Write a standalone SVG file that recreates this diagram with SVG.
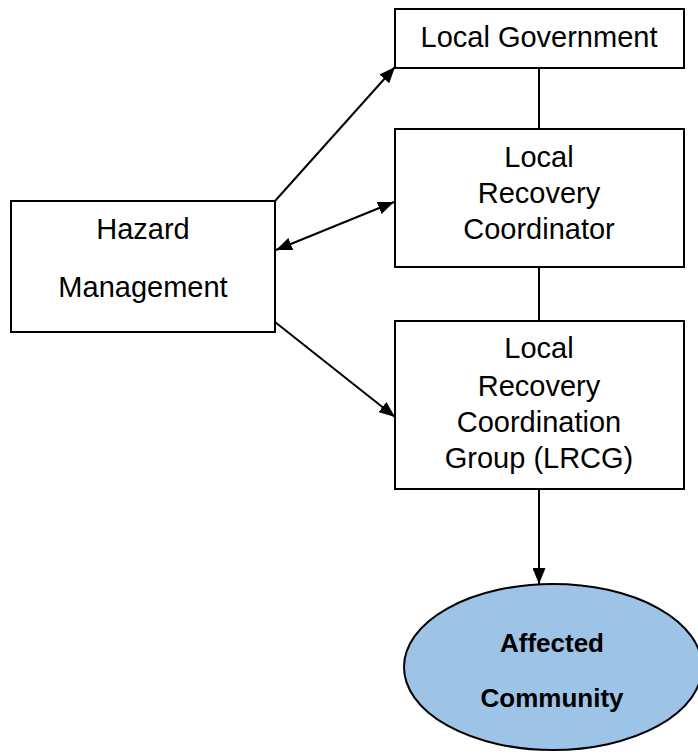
<svg xmlns="http://www.w3.org/2000/svg" width="698" height="756" viewBox="0 0 698 756">
<defs>
<style>
.box{fill:#fff;stroke:#000;stroke-width:2}
.t{font-family:"Liberation Sans",Arial,sans-serif;font-size:29px;fill:#000;text-anchor:middle}
.b{font-family:"Liberation Sans",Arial,sans-serif;font-size:26px;font-weight:bold;fill:#000;text-anchor:middle}
.c{stroke:#000;stroke-width:2;fill:none}
</style>
<marker id="ah" viewBox="0 0 16 13" refX="16" refY="6.5" markerWidth="16" markerHeight="13" markerUnits="userSpaceOnUse" orient="auto-start-reverse">
<path d="M0,0 L16,6.5 L0,13 z" fill="#000"/>
</marker>
</defs>
<rect width="698" height="756" fill="#fff"/>
<g id="connectors">
<line class="c" x1="539" y1="68" x2="539" y2="129"/>
<line class="c" x1="539" y1="267" x2="539" y2="321"/>
<line class="c" x1="275" y1="201" x2="395" y2="67" marker-end="url(#ah)"/>
<line class="c" x1="276" y1="250" x2="394" y2="202" marker-start="url(#ah)" marker-end="url(#ah)"/>
<line class="c" x1="275" y1="322" x2="395" y2="417" marker-end="url(#ah)"/>
<line class="c" x1="539" y1="489" x2="539" y2="584" marker-end="url(#ah)"/>
</g>
<g id="local-government">
<rect class="box" x="395" y="9" width="289" height="59"/>
<text class="t" x="539" y="47">Local Government</text>
</g>
<g id="local-recovery-coordinator">
<rect class="box" x="395" y="129" width="289" height="138"/>
<text class="t" x="539" y="167">Local</text>
<text class="t" x="539" y="203">Recovery</text>
<text class="t" x="539" y="239">Coordinator</text>
</g>
<g id="hazard-management">
<rect class="box" x="11" y="201" width="264" height="131"/>
<text class="t" x="143" y="239">Hazard</text>
<text class="t" x="143" y="297">Management</text>
</g>
<g id="lrcg">
<rect class="box" x="395" y="321" width="289" height="168"/>
<text class="t" x="539" y="358">Local</text>
<text class="t" x="539" y="396">Recovery</text>
<text class="t" x="539" y="432">Coordination</text>
<text class="t" x="539" y="468">Group (LRCG)</text>
</g>
<g id="affected-community">
<ellipse cx="553" cy="667" rx="149" ry="83" fill="#9dc3e6" stroke="#000" stroke-width="2"/>
<text class="b" x="552" y="652">Affected</text>
<text class="b" x="552" y="707">Community</text>
</g>
</svg>
